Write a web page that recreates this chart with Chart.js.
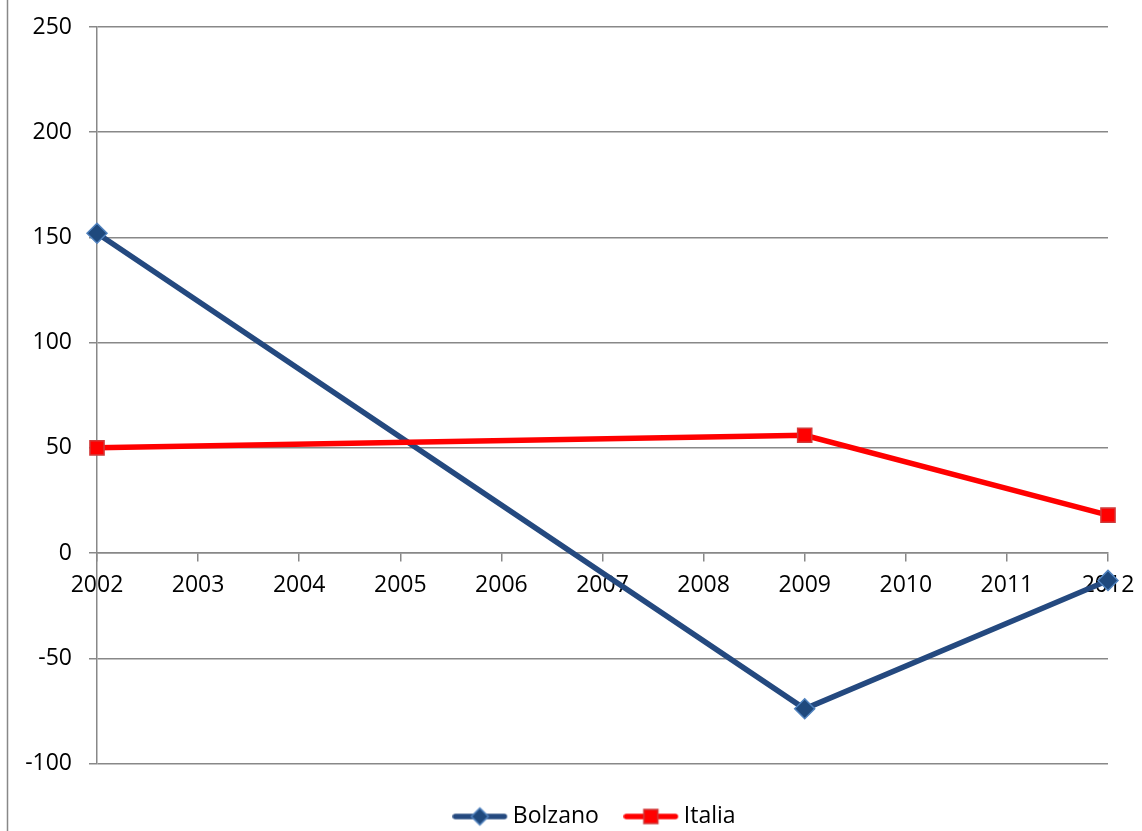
<!DOCTYPE html>
<html>
<head>
<meta charset="utf-8">
<script src="https://cdn.jsdelivr.net/npm/chart.js@4"></script>
<style>
  html, body { margin: 0; padding: 0; background: #fff; }
</style>
</head>
<body>
<canvas id="grafico" width="1142" height="831"></canvas>
<script>
// dati
const anni = ["2002", "2003", "2004", "2005", "2006", "2007", "2008", "2009", "2010", "2011", "2012"];
const bolzano = [152, null, null, null, null, null, null, -74, null, null, -13];
const italia = [50, null, null, null, null, null, null, 56, null, null, 18];
const tickY = [-100, -50, 0, 50, 100, 150, 200, 250];

const grigio = "#888888";

Chart.defaults.font.family = "'Open Sans', sans-serif";
Chart.defaults.font.size = 23;
Chart.defaults.color = "#000";

// icona della legenda: linea + marcatore
function iconaLegenda(colLinea, colPunto, colBordo, forma) {
  const c = document.createElement("canvas");
  c.width = 66;
  c.height = 22;
  const g = c.getContext("2d");
  g.strokeStyle = colLinea;
  g.lineWidth = 5.5;
  g.lineCap = "round";
  g.beginPath();
  g.moveTo(3, 11);
  g.lineTo(52, 11);
  g.stroke();
  g.fillStyle = colPunto;
  g.strokeStyle = colBordo;
  g.lineWidth = 1.5;
  g.beginPath();
  if (forma === "rectRot") {
    g.moveTo(19, 11);
    g.lineTo(27.5, 2.5);
    g.lineTo(36, 11);
    g.lineTo(27.5, 19.5);
    g.closePath();
  } else {
    g.rect(20.5, 4, 14, 14);
  }
  g.fill();
  g.stroke();
  return c;
}

const icone = [
  iconaLegenda("#24497F", "#1F497D", "#4F81BD", "rectRot"),
  iconaLegenda("#FF0000", "#FF0000", "#D03A3A", "rect"),
];

// bordo sinistro del riquadro e sfondo bianco
const cornice = {
  id: "cornice",
  beforeDraw(chart) {
    const ctx = chart.ctx;
    ctx.save();
    ctx.fillStyle = "#fff";
    ctx.fillRect(0, 0, chart.width, chart.height);
    ctx.strokeStyle = grigio;
    ctx.lineWidth = 1.5;
    ctx.beginPath();
    ctx.moveTo(7.5, 0);
    ctx.lineTo(7.5, chart.height);
    ctx.stroke();
    ctx.restore();
  },
};

new Chart(document.getElementById("grafico"), {
  type: "line",
  data: {
    labels: anni,
    datasets: [
      {
        label: "Bolzano",
        data: bolzano,
        borderColor: "#24497F",
        backgroundColor: "#1F497D",
        pointBackgroundColor: "#1F497D",
        pointBorderColor: "#4F81BD",
        pointBorderWidth: 1.5,
        pointStyle: "rectRot",
        pointRadius: 10,
        borderWidth: 5.5,
        spanGaps: true,
        clip: false,
        order: 2,
      },
      {
        label: "Italia",
        data: italia,
        borderColor: "#FF0000",
        backgroundColor: "#FF0000",
        pointBackgroundColor: "#FF0000",
        pointBorderColor: "#D03A3A",
        pointBorderWidth: 1.5,
        pointStyle: "rect",
        pointRadius: 10,
        borderWidth: 5.5,
        spanGaps: true,
        clip: false,
        order: 1,
      },
    ],
  },
  options: {
    responsive: false,
    animation: false,
    layout: {
      padding: { top: 27, right: 34, left: 0, bottom: -7 },
    },
    scales: {
      x: {
        type: "category",
        offset: false,
        position: { y: 0 },
        grid: { drawOnChartArea: false, drawTicks: true, tickLength: 8, color: grigio, lineWidth: 1.5 },
        border: { color: grigio, width: 1.5 },
        ticks: { padding: 11, maxRotation: 0, autoSkip: false },
        afterFit: (s) => {
          s.paddingLeft = 0;
          s.paddingRight = 0;
        },
      },
      y: {
        min: tickY[0],
        max: tickY[tickY.length - 1],
        ticks: { stepSize: tickY[1] - tickY[0], padding: 17 },
        grid: { color: grigio, lineWidth: 1.5, tickLength: 8 },
        border: { color: grigio, width: 1.5 },
        afterFit: (s) => {
          s.width = 97;
          s.paddingTop = 0;
          s.paddingBottom = 0;
        },
      },
    },
    plugins: {
      tooltip: { enabled: false },
      legend: {
        position: "bottom",
        fullSize: false,
        labels: {
          usePointStyle: true,
          pointStyleWidth: 32,
          padding: 41.5,
          generateLabels(chart) {
            const voci = Chart.defaults.plugins.legend.labels.generateLabels(chart);
            voci.sort((a, b) => a.datasetIndex - b.datasetIndex);
            voci.forEach((v) => {
              v.pointStyle = icone[v.datasetIndex];
            });
            return voci;
          },
        },
      },
    },
  },
  plugins: [cornice],
});
</script>
</body>
</html>
